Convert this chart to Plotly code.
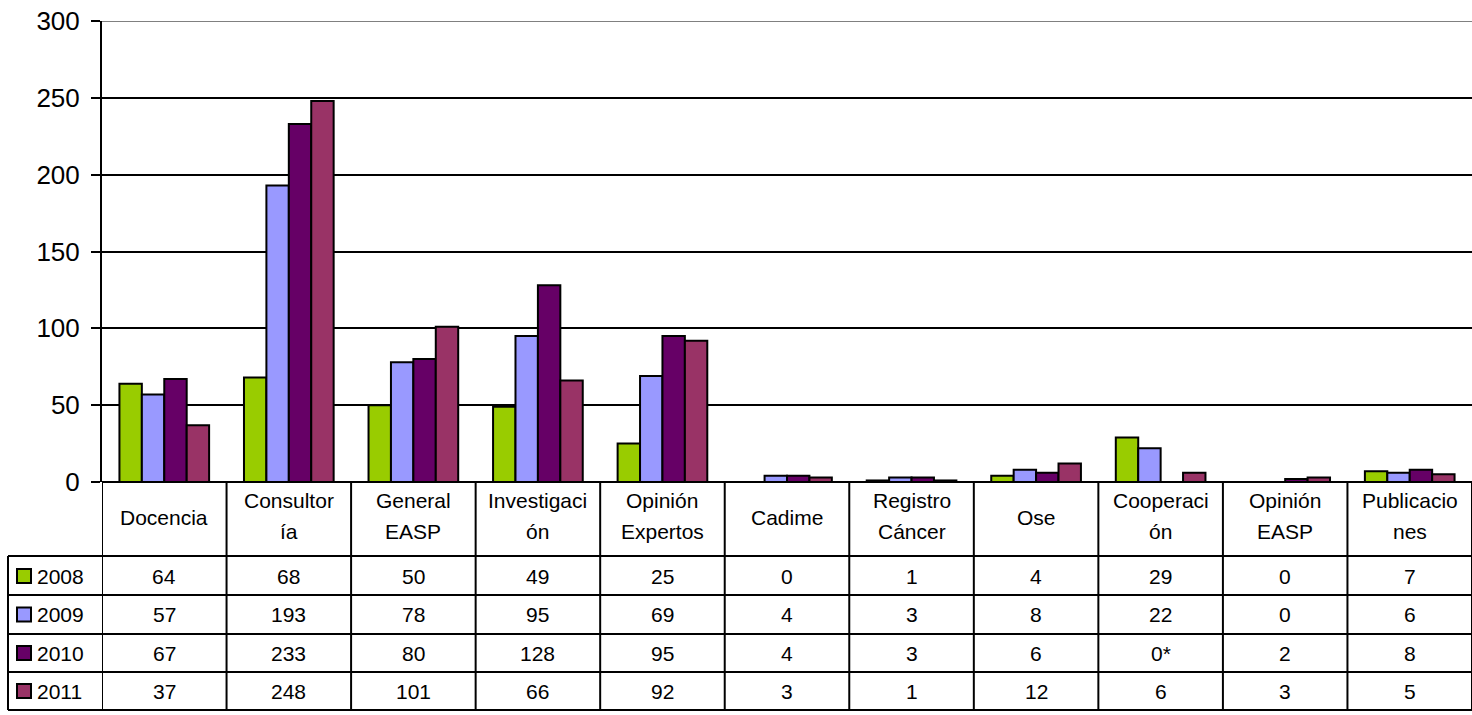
import plotly.graph_objects as go

categories = ["Docencia", "Consultoría", "General EASP", "Investigación", "Opinión Expertos",
              "Cadime", "Registro Cáncer", "Ose", "Cooperación", "Opinión EASP", "Publicaciones"]
header_lines = [["Docencia"], ["Consultor", "ía"], ["General", "EASP"], ["Investigaci", "ón"],
                ["Opinión", "Expertos"], ["Cadime"], ["Registro", "Cáncer"], ["Ose"],
                ["Cooperaci", "ón"], ["Opinión", "EASP"], ["Publicacio", "nes"]]
years = ["2008", "2009", "2010", "2011"]
v2008 = [64, 68, 50, 49, 25, 0, 1, 4, 29, 0, 7]
v2009 = [57, 193, 78, 95, 69, 4, 3, 8, 22, 0, 6]
v2010 = [67, 233, 80, 128, 95, 4, 3, 6, 0, 2, 8]
v2011 = [37, 248, 101, 66, 92, 3, 1, 12, 6, 3, 5]
labels2008 = [str(v) for v in v2008]
labels2009 = [str(v) for v in v2009]
labels2010 = [str(v) for v in v2010]
labels2010[8] = "0*"
labels2011 = [str(v) for v in v2011]
colors = ["#99CC00", "#9999FF", "#660066", "#993366"]
series = [v2008, v2009, v2010, v2011]
table_labels = [labels2008, labels2009, labels2010, labels2011]

W, H = 1472, 715
L, R, T, B = 102, 0, 21, 233
PH = H - T - B
PW = W - L - R
FONT = "Liberation Sans, Arial, sans-serif"


def py(p):
    return (H - B - p) / PH


def px(p):
    return (p - L) / PW


fig = go.Figure()
for yr, vals, col in zip(years, series, colors):
    fig.add_trace(go.Bar(
        x=list(range(len(categories))), y=vals, name=yr,
        marker=dict(color=col, line=dict(color="black", width=2)),
        showlegend=False, hoverinfo="x+y"))

shapes = []
ann = []
# top border at 300 gray
shapes.append(dict(type="line", xref="paper", yref="y", x0=0, x1=1, y0=300, y1=300,
                   line=dict(color="#808080", width=2)))
# table lines
n = len(categories)
for k in range(n + 1):
    shapes.append(dict(type="line", xref="x", yref="paper", x0=k - 0.5, x1=k - 0.5,
                       y0=py(482), y1=py(710), line=dict(color="black", width=2)))
shapes.append(dict(type="line", xref="paper", yref="paper", x0=px(8), x1=px(8),
                   y0=py(556), y1=py(710), line=dict(color="black", width=2)))
for yy in [556, 595, 634, 672, 710]:
    shapes.append(dict(type="line", xref="paper", yref="paper", x0=px(8), x1=1,
                       y0=py(yy), y1=py(yy), line=dict(color="black", width=2)))

# header text
for i, lines in enumerate(header_lines):
    if len(lines) == 1:
        ann.append(dict(x=i, y=py(517), xref="x", yref="paper", text=lines[0], showarrow=False,
                        font=dict(family=FONT, size=21, color="black"), xanchor="center", yanchor="middle"))
    else:
        for j, t in enumerate(lines):
            ann.append(dict(x=i, y=py(500 + 31 * j), xref="x", yref="paper", text=t, showarrow=False,
                            font=dict(family=FONT, size=21, color="black"), xanchor="center", yanchor="middle"))

row_centers = [576, 614.5, 653, 691]
for r, (yr, labs, col) in enumerate(zip(years, table_labels, colors)):
    yc = row_centers[r]
    shapes.append(dict(type="rect", xref="paper", yref="paper", x0=px(17), x1=px(31),
                       y0=py(yc - 7), y1=py(yc + 7), fillcolor=col, line=dict(color="black", width=2)))
    ann.append(dict(x=px(35), y=py(yc), xref="paper", yref="paper", text=yr, showarrow=False,
                    font=dict(family=FONT, size=21, color="black"), xanchor="left", yanchor="middle"))
    for i, t in enumerate(labs):
        ann.append(dict(x=i, y=py(yc), xref="x", yref="paper", text=t, showarrow=False,
                        font=dict(family=FONT, size=21, color="black"), xanchor="center", yanchor="middle"))

fig.update_layout(
    width=W, height=H,
    margin=dict(l=L, r=R, t=T, b=B, pad=0, autoexpand=False),
    paper_bgcolor="white", plot_bgcolor="white",
    barmode="group", bargap=0.28, bargroupgap=0,
    shapes=shapes, annotations=ann,
    xaxis=dict(range=[-0.5, n - 0.5], showticklabels=False, showgrid=False, zeroline=False,
               showline=False, ticks="", automargin=False),
    yaxis=dict(range=[0, 300], dtick=50, showgrid=True, gridcolor="black", gridwidth=2,
               zeroline=True, zerolinecolor="black", zerolinewidth=2,
               showline=True, linecolor="black", linewidth=2,
               ticks="outside", ticklen=9, tickcolor="black", tickwidth=2, automargin=False,
               ticklabelstandoff=6,
               tickfont=dict(family=FONT, size=26, color="black")),
)
fig.write_html("out.html", config={"displayModeBar": False},
               post_script="document.body.style.margin='0';document.body.style.padding='0';"
                           "document.body.style.overflow='hidden';")
